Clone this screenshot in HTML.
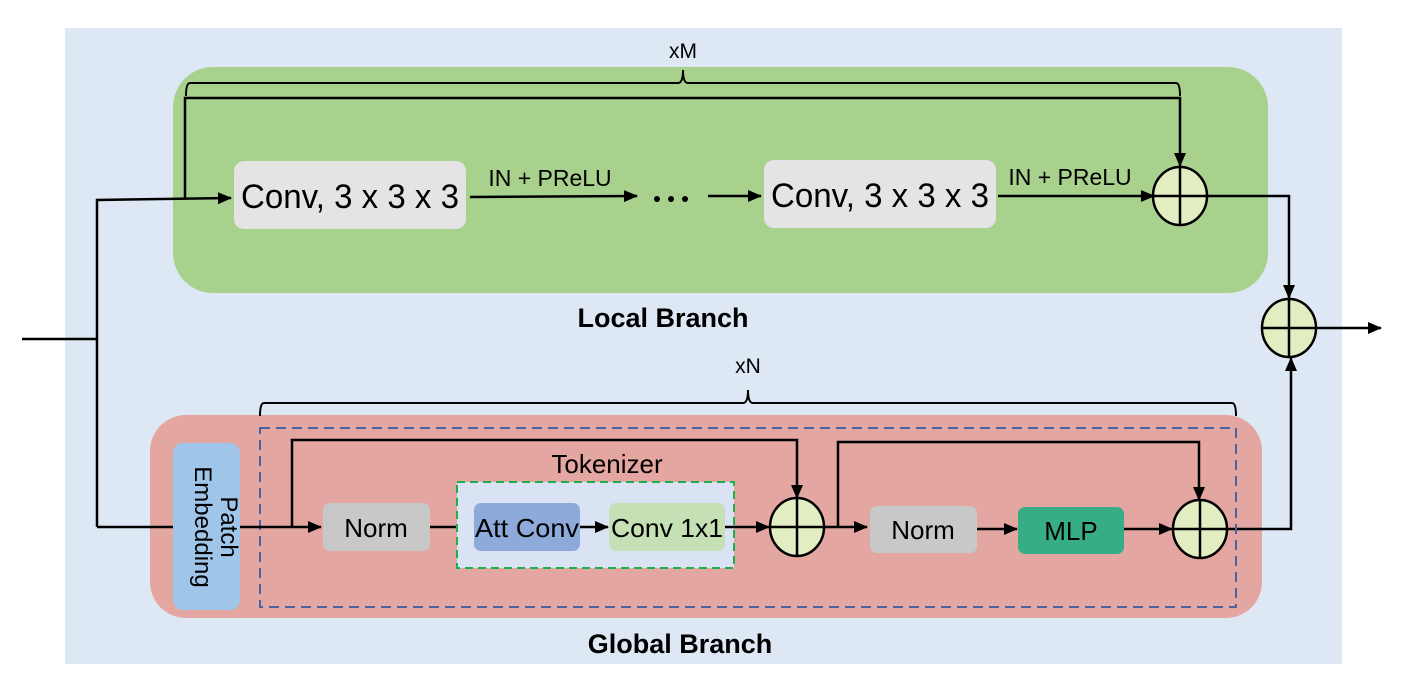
<!DOCTYPE html>
<html><head><meta charset="utf-8"><style>
html,body{margin:0;padding:0;background:#fff;}
svg{display:block;}
text{font-family:"Liberation Sans",sans-serif;fill:#000;}
</style></head><body>
<svg width="1409" height="686" viewBox="0 0 1409 686" xmlns="http://www.w3.org/2000/svg">
<defs>
<marker id="a" markerWidth="14" markerHeight="14" refX="13" refY="7" orient="auto" markerUnits="userSpaceOnUse">
<path d="M0,1 L14,7 L0,13 z" fill="#000"/></marker>
</defs>
<rect x="65" y="28" width="1277" height="636" fill="#dde8f4"/>
<rect x="173" y="67" width="1095" height="226" rx="40" fill="#a9d18e"/>
<rect x="150" y="415" width="1112" height="203" rx="36" fill="#e3a6a0"/>

<text x="683" y="58" font-size="21" text-anchor="middle">xM</text>
<path d="M186,96 Q186,83 190,83 L678,83 Q683,83 683,70 Q683,83 688,83 L1176,83 Q1180,83 1180,96" fill="none" stroke="#000" stroke-width="2"/>
<path d="M185,198 L185,98 L1180,98 L1180,166" fill="none" stroke="#000" stroke-width="2.5" marker-end="url(#a)"/>

<path d="M22,339 L97,339" stroke="#000" stroke-width="2.5"/>
<path d="M97,527 L97,200 L231,198" fill="none" stroke="#000" stroke-width="2.5" marker-end="url(#a)"/>

<rect x="234" y="161" width="232" height="68" rx="10" fill="#e4e4e4"/>
<text x="350" y="208" font-size="34" text-anchor="middle" textLength="218" lengthAdjust="spacingAndGlyphs">Conv, 3 x 3 x 3</text>
<path d="M470,197 L637,196" stroke="#000" stroke-width="2.5" marker-end="url(#a)"/>
<text x="550" y="186" font-size="23" text-anchor="middle">IN + PReLU</text>
<circle cx="657" cy="199" r="3" fill="#000"/><circle cx="671" cy="199" r="3" fill="#000"/><circle cx="685" cy="199" r="3" fill="#000"/>
<path d="M708,196 L761,196" stroke="#000" stroke-width="2.5" marker-end="url(#a)"/>
<rect x="764" y="160" width="232" height="68" rx="10" fill="#e4e4e4"/>
<text x="880" y="207" font-size="34" text-anchor="middle" textLength="218" lengthAdjust="spacingAndGlyphs">Conv, 3 x 3 x 3</text>
<path d="M998,196 L1154,196" stroke="#000" stroke-width="2.5" marker-end="url(#a)"/>
<text x="1070" y="185" font-size="23" text-anchor="middle">IN + PReLU</text>

<g fill="#e2edc2" stroke="#000" stroke-width="2.5">
<ellipse cx="1180" cy="196" rx="27" ry="29"/>
<ellipse cx="1289" cy="328" rx="27" ry="29"/>
<ellipse cx="797" cy="527" rx="27" ry="29"/>
<ellipse cx="1200" cy="529" rx="27" ry="29"/>
</g>
<g stroke="#000" stroke-width="2.5">
<path d="M1153,196 H1207 M1180,167 V225"/>
<path d="M1262,328 H1316 M1289,299 V357"/>
<path d="M770,527 H824 M797,498 V556"/>
<path d="M1173,529 H1227 M1200,500 V558"/>
</g>
<path d="M1207,196 L1289,196 L1289,298" fill="none" stroke="#000" stroke-width="2.5" marker-end="url(#a)"/>
<path d="M1316,328 L1381,328" stroke="#000" stroke-width="2.5" marker-end="url(#a)"/>
<path d="M1227,529 L1291,529 L1291,358" fill="none" stroke="#000" stroke-width="2.5" marker-end="url(#a)"/>

<text x="663" y="327" font-size="27" font-weight="bold" text-anchor="middle">Local Branch</text>

<text x="748" y="373" font-size="21" text-anchor="middle">xN</text>
<path d="M260,416 Q260,403 264,403 L743,403 Q748,403 748,390 Q748,403 753,403 L1232,403 Q1236,403 1236,416" fill="none" stroke="#000" stroke-width="2"/>

<rect x="173" y="443" width="67" height="167" rx="10" fill="#9fc5e8"/>
<text transform="translate(195,527) rotate(90)" font-size="24" text-anchor="middle">Embedding</text>
<text transform="translate(221,527) rotate(90)" font-size="24" text-anchor="middle">Patch</text>
<rect x="260" y="428" width="976" height="179" fill="none" stroke="#4a62a0" stroke-width="2" stroke-dasharray="10,6"/>

<path d="M97,527 L173,527" stroke="#000" stroke-width="2.5"/>
<path d="M240,527 L321,527" stroke="#000" stroke-width="2.5" marker-end="url(#a)"/>
<path d="M292,527 L292,440 L797,440 L797,498" fill="none" stroke="#000" stroke-width="2.5" marker-end="url(#a)"/>

<rect x="323" y="503" width="107" height="48" rx="7" fill="#c8c8c8"/>
<text x="376" y="537" font-size="26" text-anchor="middle">Norm</text>
<path d="M430,527 L473,527" stroke="#000" stroke-width="2.5" marker-end="url(#a)"/>
<text x="607" y="473" font-size="26" text-anchor="middle">Tokenizer</text>
<rect x="457" y="482" width="277" height="86" fill="#d9e3f3" stroke="#1db04a" stroke-width="2" stroke-dasharray="8,5"/>
<rect x="474" y="503" width="106" height="48" rx="7" fill="#8eaadb"/>
<text x="527" y="537" font-size="26" text-anchor="middle" textLength="104" lengthAdjust="spacingAndGlyphs">Att Conv</text>
<path d="M580,527 L608,527" stroke="#000" stroke-width="2.5" marker-end="url(#a)"/>
<rect x="609" y="503" width="116" height="48" rx="7" fill="#c5e0b4"/>
<text x="667" y="537" font-size="26" text-anchor="middle" textLength="112" lengthAdjust="spacingAndGlyphs">Conv 1x1</text>
<path d="M725,527 L769,527" stroke="#000" stroke-width="2.5" marker-end="url(#a)"/>

<path d="M824,527 L867,527" stroke="#000" stroke-width="2.5" marker-end="url(#a)"/>
<path d="M838,527 L838,442 L1199,442 L1199,500" fill="none" stroke="#000" stroke-width="2.5" marker-end="url(#a)"/>
<rect x="870" y="506" width="107" height="47" rx="7" fill="#c8c8c8"/>
<text x="923" y="539" font-size="26" text-anchor="middle">Norm</text>
<path d="M977,529 L1017,529" stroke="#000" stroke-width="2.5" marker-end="url(#a)"/>
<rect x="1018" y="507" width="106" height="47" rx="7" fill="#37ad86"/>
<text x="1071" y="540" font-size="26" text-anchor="middle">MLP</text>
<path d="M1124,529 L1172,529" stroke="#000" stroke-width="2.5" marker-end="url(#a)"/>

<text x="680" y="653" font-size="27" font-weight="bold" text-anchor="middle">Global Branch</text>
</svg>
</body></html>
